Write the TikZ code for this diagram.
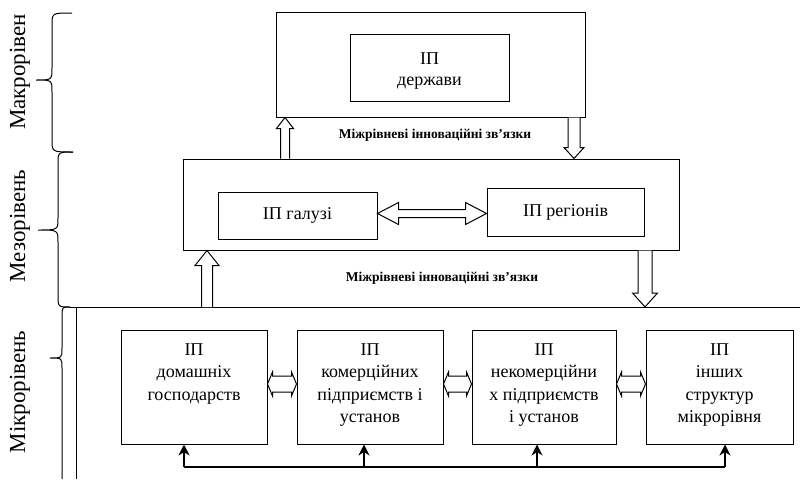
\documentclass[tikz,border=0pt]{standalone}
\usepackage{fontspec}
\setmainfont{Liberation Serif}
\usetikzlibrary{calc,arrows.meta}

% hollow arrow: #1 tail, #2 tip, #3 shaft half width, #4 head half width, #5 head length
\newcommand{\hollowarrow}[5]{%
  \coordinate (hab) at ($(#2)!#5!(#1)$);
  \draw[hollow] ($(#1)!#3!90:(#2)$) -- ($(hab)!#3!90:(#2)$) -- ($(hab)!#4!90:(#2)$) -- (#2)
    -- ($(hab)!#4!-90:(#2)$) -- ($(hab)!#3!-90:(#2)$) -- ($(#1)!#3!-90:(#2)$);
}
% hollow double arrow between #1 and #2
\newcommand{\hollowdouble}[5]{%
  \coordinate (hda) at ($(#1)!#5!(#2)$);
  \coordinate (hdb) at ($(#2)!#5!(#1)$);
  \draw[hollow] (#1) -- ($(hda)!#4!90:(#2)$) -- ($(hda)!#3!90:(#2)$) -- ($(hdb)!#3!90:(#2)$)
    -- ($(hdb)!#4!90:(#2)$) -- (#2) -- ($(hdb)!#4!-90:(#2)$) -- ($(hdb)!#3!-90:(#2)$)
    -- ($(hda)!#3!-90:(#2)$) -- ($(hda)!#4!-90:(#2)$) -- cycle;
}

\tikzset{
  box/.style={draw, line width=1pt, inner sep=0pt, align=center,
    font=\fontsize{18}{21}\selectfont},
  hollow/.style={draw, fill=white, line width=1pt, line join=miter},
  txt/.style={inner sep=0pt, align=center, font=\fontsize{18}{22.5}\selectfont},
  lvl/.style={inner sep=0pt, rotate=90, font=\fontsize{23}{26}\selectfont},
  link/.style={inner sep=0pt, font=\bfseries\fontsize{13.5}{15}\selectfont},
  brc/.style={draw, line width=1pt},
  feed/.style={draw, line width=1.4pt},
  feedup/.style={draw, line width=2.5pt, -{Stealth[length=11pt,width=11pt]}},
}

\begin{document}
\begin{tikzpicture}[x=1pt,y=-1pt]
\useasboundingbox (0,0) rectangle (800,479);

% macro level
\node[box, minimum width=309pt, minimum height=105pt] (mac) at (430.5,64.5) {};
\node[box, minimum width=159pt, minimum height=67pt] (der) at (429.5,67.5) {};
\node[txt, font=\fontsize{18}{21}\selectfont] (dert) at ($(der.center)+(0,4)$) {ІП\\держави};

% meso level
\node[box, minimum width=496pt, minimum height=91pt] (meso) at (431,204.5) {};
\node[box, minimum width=159pt, minimum height=47pt] (gal) at (297.5,215.5) {ІП галузі};
\node[box, minimum width=157pt, minimum height=48pt] (reg) at (565.5,212) {ІП регіонів};

% micro frame
\coordinate (mfl) at (70,307);
\coordinate (mfr) at (800,307);
\coordinate (mvt) at (76,307);
\coordinate (mvb) at (76,479);
\draw[line width=1pt] (mfl) -- (mfr);
\draw[line width=1pt] (mvt) -- (mvb);

% micro boxes
\node[box, minimum width=146pt, minimum height=114pt] (b1) at (194,387) {};
\node[box, minimum width=146pt, minimum height=114pt] (b2) at (370,387) {};
\node[box, minimum width=144pt, minimum height=114pt] (b3) at (544,387) {};
\node[box, minimum width=147pt, minimum height=114pt] (b4) at (719.5,387) {};
\node[txt, anchor=north] (t1) at ($(b1.north)+(0,14)$) {ІП\\домашніх\\господарств};
\node[txt, anchor=north] (t2) at ($(b2.north)+(0,14)$) {ІП\\комерційних\\підприємств і\\установ};
\node[txt, anchor=north] (t3) at ($(b3.north)+(0,14)$) {ІП\\некомерційни\\х підприємств\\і установ};
\node[txt, anchor=north] (t4) at ($(b4.north)+(0,14)$) {ІП\\інших\\структур\\мікрорівня};

% link labels
\node[link] (l1) at (435,135) {Міжрівневі інноваційні зв'язки};
\node[link] (l2) at (442,278) {Міжрівневі інноваційні зв'язки};

% vertical hollow arrows
\coordinate (xa) at (285,0);
\coordinate (xb) at (574,0);
\coordinate (xc) at (207,0);
\coordinate (xd) at (645,0);
\coordinate (a1t) at (xa |- meso.north);
\coordinate (a1h) at (xa |- mac.south);
\coordinate (a2t) at (xb |- mac.south);
\coordinate (a2h) at (xb |- meso.north);
\coordinate (a3t) at (xc |- mfl);
\coordinate (a3h) at (xc |- meso.south);
\coordinate (a4t) at (xd |- meso.south);
\coordinate (a4h) at (xd |- mfl);
\hollowarrow{a1t}{a1h}{4.5pt}{8.5pt}{11pt}
\hollowarrow{a2t}{a2h}{6pt}{10pt}{11pt}
\hollowarrow{a3t}{a3h}{5.5pt}{12pt}{15pt}
\hollowarrow{a4t}{a4h}{7pt}{12.5pt}{14pt}

% horizontal double arrows
\coordinate (dga) at ($(gal.east)+(0,-2)$);
\coordinate (dgb) at (reg.west |- dga);
\hollowdouble{dga}{dgb}{4pt}{11pt}{21pt}
\coordinate (d1a) at ($(b1.east)+(0,-3)$);
\coordinate (d1b) at (b2.west |- d1a);
\coordinate (d2a) at ($(b2.east)+(0,-3)$);
\coordinate (d2b) at (b3.west |- d2a);
\coordinate (d3a) at ($(b3.east)+(0,-3)$);
\coordinate (d3b) at (b4.west |- d3a);
\hollowdouble{d1a}{d1b}{8pt}{12pt}{5pt}
\hollowdouble{d2a}{d2b}{8pt}{12pt}{5pt}
\hollowdouble{d3a}{d3b}{8pt}{12pt}{5pt}

% feedback line
\coordinate (f1) at (184,467);
\coordinate (f2) at (364,467);
\coordinate (f3) at (537,467);
\coordinate (f4) at (725,467);
\draw[feed] (f1) -- (f4);
\draw[feedup] (f1) -- (f1 |- b1.south);
\draw[feedup] (f2) -- (f2 |- b2.south);
\draw[feedup] (f3) -- (f3 |- b3.south);
\draw[feedup] (f4) -- (f4 |- b4.south);

% braces
\draw[brc] (72,13) .. controls (52,13) .. (52,25) -- (52,68) .. controls (52,80) .. (36,80)
  .. controls (52,80) .. (52,92) -- (52,140) .. controls (52,152) .. (73,152);
\draw[brc] (73,152) .. controls (58,152) .. (58,164) -- (58,218) .. controls (58,230) .. (38,230)
  .. controls (58,230) .. (58,242) -- (58,295) .. controls (58,307) .. (70,307);
\draw[brc] (70,307) .. controls (62,307) .. (62,317) -- (62,348) .. controls (62,358) .. (50,358)
  .. controls (62,358) .. (62,368) -- (62,479);

% level labels
\node[lvl] (lv1) at (20,72) {Макрорівен};
\node[lvl] (lv2) at (20,226) {Мезорівень};
\node[lvl] (lv3) at (20,392) {Мікрорівень};
\end{tikzpicture}
\end{document}
